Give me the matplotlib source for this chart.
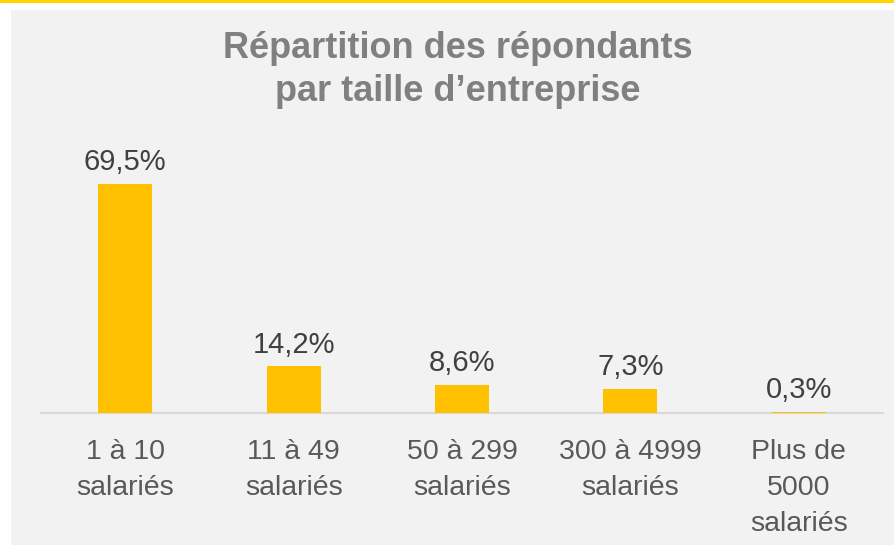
import matplotlib.pyplot as plt
from matplotlib.patches import Rectangle

categories = ['1 à 10\nsalariés', '11 à 49\nsalariés', '50 à 299\nsalariés',
              '300 à 4999\nsalariés', 'Plus de\n5000\nsalariés']
values = [69.5, 14.2, 8.6, 7.3, 0.3]
labels = ['69,5%', '14,2%', '8,6%', '7,3%', '0,3%']

plt.rcParams['font.family'] = ['Liberation Sans', 'DejaVu Sans']

W, H = 894, 545
fig = plt.figure(figsize=(W / 100, H / 100), dpi=100)
fig.patch.set_facecolor('white')

# gray panel and yellow top rule
fig.patches.append(Rectangle((11 / W, 0), 1 - 11 / W, 1 - 10 / H,
                             transform=fig.transFigure, facecolor='#F2F2F2',
                             edgecolor='none', zorder=-5))
fig.patches.append(Rectangle((0, 1 - 2.5 / H), 1, 2.5 / H,
                             transform=fig.transFigure, facecolor='#FFD500',
                             edgecolor='none', zorder=-5))

ax = fig.add_axes([41 / W, (H - 413) / H, (883 - 41) / W, (413 - 150) / H])
ax.set_facecolor('none')

x = range(len(values))
ax.bar(x, values, width=0.32, color='#FFC000', zorder=3)
for i, v in enumerate(values):
    ax.text(i, v + 2.3, labels[i], ha='center', va='bottom', fontsize=21, color='#404040')

ax.set_xlim(-0.5, len(values) - 0.5)
ax.set_ylim(0, 79.8)
ax.set_xticks(list(x))
ax.set_xticklabels(categories, fontsize=20.5, color='#595959', linespacing=1.5, va='top')
ax.tick_params(axis='x', length=0, pad=19)
ax.set_yticks([])
for s in ['top', 'right', 'left']:
    ax.spines[s].set_visible(False)
ax.spines['bottom'].set_color('#D9D9D9')
ax.spines['bottom'].set_linewidth(1.5)

fig.text(458 / W, 1 - 70 / H, 'Répartition des répondants\npar taille d’entreprise',
         ha='center', va='center', fontsize=26, fontweight='bold', color='#808080',
         linespacing=1.28)

fig.savefig('out.png', dpi=100)
